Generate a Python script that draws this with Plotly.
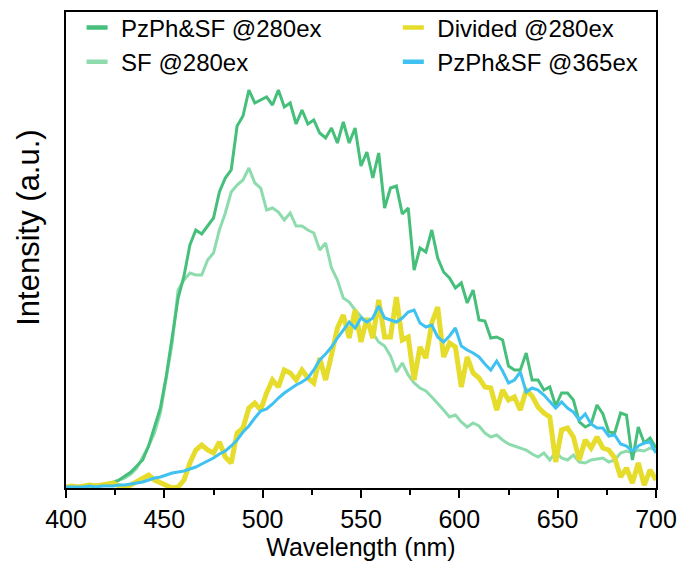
import plotly.graph_objects as go

# Emission wavelength grid (nm), 3 nm steps
wavelength = list(range(400, 701, 3))

# Emission intensities (a.u.)
pzph_sf_280 = [
    1, 2, 1, 2, 2, 3, 2, 4, 5, 8,
    12, 16, 22, 28, 42, 60, 80, 112, 150, 190,
    212, 243, 258, 254, 262, 270, 296, 310, 318, 362,
    372, 398, 385, 388, 391, 383, 398, 381, 385, 364,
    378, 364, 368, 355, 350, 360, 345, 366, 345, 360,
    322, 336, 310, 335, 280, 300, 302, 274, 280, 218,
    240, 236, 258, 230, 216, 210, 200, 205, 185, 198,
    168, 167, 150, 151, 148, 122, 118, 118, 135, 108,
    108, 98, 101, 82, 95, 95, 88, 66, 61, 64,
    83, 74, 56, 55, 75, 73, 28, 61, 45, 50,
    40,
]

sf_280 = [
    1, 2, 1, 2, 1, 2, 3, 4, 6, 8,
    10, 14, 20, 31, 42, 55, 75, 110, 145, 198,
    208, 215, 213, 213, 228, 235, 258, 275, 296, 303,
    308, 320, 305, 300, 278, 280, 276, 268, 275, 262,
    262, 258, 255, 238, 245, 220, 208, 190, 186, 178,
    172, 165, 155, 146, 142, 132, 116, 125, 113, 105,
    100, 97, 91, 85, 78, 71, 73, 66, 61, 65,
    62, 55, 51, 53, 48, 44, 42, 40, 38, 34,
    31, 35, 28, 36, 30, 28, 33, 26, 25, 28,
    29, 30, 26, 28, 35, 37, 35, 38, 37, 40,
    38,
]

divided_280 = [
    1, 2, 1, 2, 3, 2, 3, 4, 5, 2,
    1, 3, 6, 9, 13, 8, 5, 2, 0, 1,
    8, 25, 38, 43, 38, 35, 46, 31, 25, 55,
    60, 80, 85, 78, 95, 108, 101, 118, 115, 108,
    118, 110, 105, 130, 108, 133, 160, 173, 150, 178,
    146, 170, 150, 188, 151, 151, 191, 148, 151, 108,
    141, 130, 165, 181, 131, 145, 141, 101, 131, 115,
    110, 101, 100, 78, 98, 88, 91, 78, 98, 92,
    81, 75, 71, 26, 58, 60, 51, 28, 48, 40,
    51, 40, 38, 30, 11, 20, 5, 25, 3, 18,
    8,
]

pzph_sf_365 = [
    1, 1, 1, 1, 2, 1, 2, 2, 2, 3,
    3, 4, 5, 6, 8, 10, 11, 13, 15, 16,
    17, 19, 21, 24, 27, 30, 34, 37, 42, 48,
    56, 62, 70, 77, 79, 84, 90, 95, 99, 103,
    106, 110, 118, 128, 134, 141, 150, 158, 166, 160,
    170, 166, 170, 182, 170, 168, 166, 170, 176, 178,
    165, 161, 163, 151, 146, 152, 160, 142, 138, 135,
    131, 124, 118, 127, 117, 105, 108, 116, 96, 100,
    98, 93, 86, 80, 86, 80, 76, 68, 74, 64,
    60, 60, 52, 53, 44, 42, 37, 42, 45, 46,
    35,
]

series_names = ["PzPh&SF @280ex", "SF @280ex", "Divided @280ex", "PzPh&SF @365ex"]
x_ticks = [400, 450, 500, 550, 600, 650, 700]

colors = {
    "PzPh&SF @280ex": "#45bf7a",
    "SF @280ex": "#8edcae",
    "Divided @280ex": "#e6dc2c",
    "PzPh&SF @365ex": "#3fc1f2",
}
widths = {
    "PzPh&SF @280ex": 3,
    "SF @280ex": 3,
    "Divided @280ex": 5,
    "PzPh&SF @365ex": 3,
}
values = {
    "PzPh&SF @280ex": pzph_sf_280,
    "SF @280ex": sf_280,
    "Divided @280ex": divided_280,
    "PzPh&SF @365ex": pzph_sf_365,
}
legend_of = {
    "PzPh&SF @280ex": "legend",
    "SF @280ex": "legend",
    "Divided @280ex": "legend2",
    "PzPh&SF @365ex": "legend2",
}

FONT = "Liberation Sans, Arial, sans-serif"

fig = go.Figure()

# spectra, drawn back to front
for name in ["SF @280ex", "PzPh&SF @280ex", "Divided @280ex", "PzPh&SF @365ex"]:
    fig.add_trace(go.Scatter(
        x=wavelength, y=values[name], mode="lines", name=name,
        line=dict(color=colors[name], width=widths[name]),
        showlegend=False,
    ))

# short dash legend keys
for i, name in enumerate(series_names):
    fig.add_trace(go.Scatter(
        x=[None], y=[None], mode="markers", name=name,
        marker=dict(symbol="line-ew", size=15,
                    line=dict(color=colors[name], width=4.5)),
        legend=legend_of[name], legendgroup=name, legendrank=i,
    ))

fig.update_layout(
    width=682, height=562,
    margin=dict(l=66, r=26, t=12, b=74, autoexpand=False),
    paper_bgcolor="white", plot_bgcolor="white",
    font=dict(family=FONT, color="black"),
    legend=dict(
        x=0.012, y=1.014, xanchor="left", yanchor="top",
        bgcolor="rgba(0,0,0,0)", font=dict(size=24, family=FONT),
        itemwidth=38, tracegroupgap=0, traceorder="normal",
    ),
    legend2=dict(
        x=0.548, y=1.014, xanchor="left", yanchor="top",
        bgcolor="rgba(0,0,0,0)", font=dict(size=24, family=FONT),
        itemwidth=38, tracegroupgap=0, traceorder="normal",
    ),
    xaxis=dict(
        range=[400, 700], tickvals=x_ticks,
        ticks="outside", ticklen=8, tickwidth=1.5, tickcolor="black",
        minor=dict(dtick=25, tick0=400, ticks="outside", ticklen=5,
                   tickwidth=1.5, tickcolor="black"),
        showline=True, linecolor="black", linewidth=1.5, mirror=True,
        showgrid=False, zeroline=False, automargin=False,
        tickfont=dict(size=25, family=FONT),
        title=dict(text="Wavelength (nm)", font=dict(size=25, family=FONT),
                   standoff=6),
    ),
    yaxis=dict(
        range=[0, 476], showticklabels=False, ticks="",
        showline=True, linecolor="black", linewidth=1.5, mirror=True,
        showgrid=False, zeroline=False, automargin=False,
    ),
    annotations=[dict(
        text="Intensity (a.u.)", textangle=-90,
        xref="paper", yref="paper", x=-0.065, y=0.546,
        xanchor="center", yanchor="middle", showarrow=False,
        font=dict(size=31, family=FONT),
    )],
)

fig.write_html(
    "out.html",
    post_script="document.body.style.margin='0';document.body.style.overflow='hidden';",
)
